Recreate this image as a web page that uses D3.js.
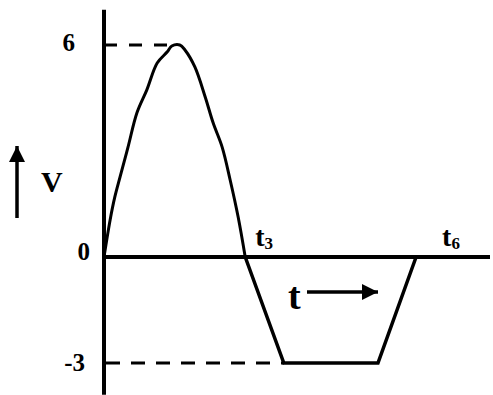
<!DOCTYPE html>
<html>
<head>
<meta charset="utf-8">
<script src="https://cdn.jsdelivr.net/npm/d3@7"></script>
<style>
  body { margin: 0; background: #fff; }
  text { font-family: "Liberation Serif", "Times New Roman", serif; font-weight: bold; fill: #000; }
</style>
</head>
<body>
<div id="chart"></div>
<script>
var width = 493;
var height = 395;

// values (t in arbitrary units, v in volts)
var sineT = [0, 0.13, 0.23, 0.34, 0.51, 0.70, 0.91, 1.13, 1.34, 1.44, 1.61, 1.72, 1.93, 2.15, 2.32, 2.51, 2.68, 2.85, 3.0];
var sineV = [0, 1.05, 1.70, 2.26, 3.11, 4.08, 4.73, 5.49, 5.80, 5.97, 6.0, 5.86, 5.38, 4.53, 3.79, 3.11, 2.18, 1.13, 0];
var trapT = [3.0, 3.82, 5.82, 6.63];
var trapV = [0, -3, -3, 0];
var tickValues = [6, 0, -3];
var tickLabels = ["6", "0", "-3"];
var timeMarks = [3.0, 6.63];
var timeSubs = ["3", "6"];
var tRange = [0, 8.2];
var vRange = [-3.9, 7];

window.onload = start;

function start() {
  var xScale = d3.scaleLinear().domain([0, 8.2]).range([104, 490]);
  var yScale = d3.scaleLinear().domain([6, 0]).range([45, 257]);

  var svg = d3.select("#chart").append("svg")
    .attr("width", width)
    .attr("height", height);

  svg.append("defs").append("marker")
    .attr("id", "head")
    .attr("viewBox", "0 0 10 10")
    .attr("refX", 10).attr("refY", 5)
    .attr("markerWidth", 4.6).attr("markerHeight", 4.6)
    .attr("markerUnits", "strokeWidth")
    .attr("orient", "auto")
    .append("path")
    .attr("d", "M0,0 L10,5 L0,10 Z")
    .attr("fill", "#000");

  // dashed guide lines
  svg.append("line")
    .attr("x1", xScale(0)).attr("x2", xScale(1.55))
    .attr("y1", yScale(6)).attr("y2", yScale(6))
    .attr("stroke", "#000").attr("stroke-width", 3)
    .attr("stroke-dasharray", "13,12");
  svg.append("line")
    .attr("x1", xScale(0) + 2).attr("x2", xScale(3.82))
    .attr("y1", yScale(-3)).attr("y2", yScale(-3))
    .attr("stroke", "#000").attr("stroke-width", 3)
    .attr("stroke-dasharray", "14,11");

  // axes
  svg.append("line")
    .attr("x1", xScale(0)).attr("x2", xScale(0))
    .attr("y1", yScale(vRange[1])).attr("y2", yScale(vRange[0]))
    .attr("stroke", "#000").attr("stroke-width", 4);
  svg.append("line")
    .attr("x1", xScale(0)).attr("x2", xScale(tRange[1]))
    .attr("y1", yScale(0)).attr("y2", yScale(0))
    .attr("stroke", "#000").attr("stroke-width", 4);

  var line = d3.line()
    .x(function (d) { return xScale(d[0]); })
    .y(function (d) { return yScale(d[1]); });

  svg.append("path")
    .attr("d", line.curve(d3.curveCatmullRom)(d3.zip(sineT, sineV)))
    .attr("fill", "none").attr("stroke", "#000")
    .attr("stroke-width", 3).attr("stroke-linejoin", "round");

  svg.append("path")
    .attr("d", line.curve(d3.curveLinear)(d3.zip(trapT, trapV)))
    .attr("fill", "none").attr("stroke", "#000")
    .attr("stroke-width", 3.5).attr("stroke-linejoin", "miter");

  // tick labels
  var tickX = [75, 90, 85];
  var tickDy = [6, 3, 8];
  svg.selectAll(".tick")
    .data(tickValues)
    .enter().append("text")
    .attr("class", "tick")
    .attr("x", function (d, i) { return tickX[i]; })
    .attr("y", function (d, i) { return yScale(d) + tickDy[i]; })
    .attr("text-anchor", "end")
    .style("font-size", "25px")
    .text(function (d, i) { return tickLabels[i]; });

  // time marks t3, t6
  var marks = svg.selectAll(".tmark")
    .data(timeMarks)
    .enter().append("text")
    .attr("class", "tmark")
    .attr("x", function (d) { return xScale(d) + (d > 5 ? 26 : 10); })
    .attr("y", yScale(0) - 11)
    .style("font-size", "28px");
  marks.append("tspan").text("t");
  marks.append("tspan")
    .attr("dy", 3)
    .style("font-size", "17px")
    .text(function (d, i) { return timeSubs[i]; });

  // V with arrow
  svg.append("text")
    .attr("x", 41).attr("y", 192)
    .style("font-size", "30px")
    .text("V");
  svg.append("line")
    .attr("x1", 17).attr("x2", 17)
    .attr("y1", 218).attr("y2", 146)
    .attr("stroke", "#000").attr("stroke-width", 3.5)
    .attr("marker-end", "url(#head)");

  // t with arrow
  svg.append("text")
    .attr("x", 288).attr("y", 309)
    .style("font-size", "38px")
    .text("t");
  svg.append("line")
    .attr("x1", 307).attr("x2", 378)
    .attr("y1", 292).attr("y2", 292)
    .attr("stroke", "#000").attr("stroke-width", 3.5)
    .attr("marker-end", "url(#head)");
}
</script>
</body>
</html>
